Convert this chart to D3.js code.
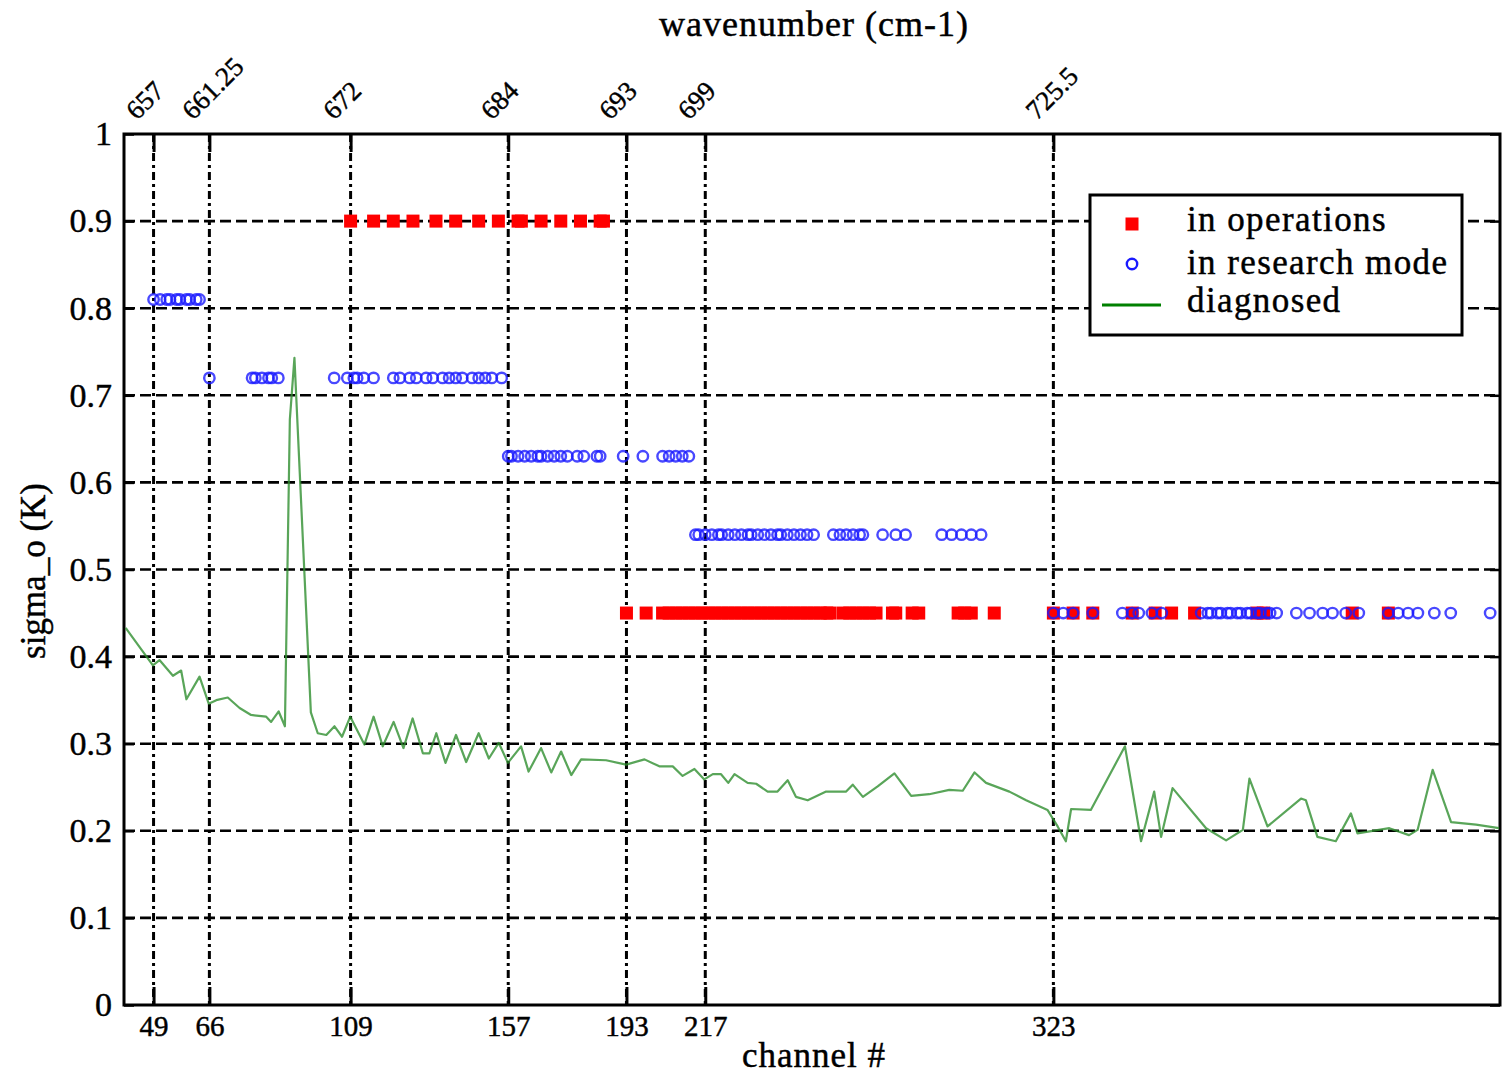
<!DOCTYPE html>
<html>
<head>
<meta charset="utf-8">
<script src="https://cdn.jsdelivr.net/npm/d3@7"></script>
<style>
  html, body { margin: 0; padding: 0; background: #fff; }
  svg { display: block; }
</style>
</head>
<body>
<svg id="chart" width="1503" height="1075"></svg>
<script>
// ---------------- data ----------------
const channelTicks = [49, 66, 109, 157, 193, 217, 323];
const wavenumberLabels = ["657", "661.25", "672", "684", "693", "699", "725.5"];
const yTicks = [0, 0.1, 0.2, 0.3, 0.4, 0.5, 0.6, 0.7, 0.8, 0.9, 1];
const yTickLabels = ["0", "0.1", "0.2", "0.3", "0.4", "0.5", "0.6", "0.7", "0.8", "0.9", "1"];

// in operations (red squares)
const opsValueHigh = 0.9;
const opsChannelsHigh = [109, 116, 122, 128, 135, 141, 148, 154, 160, 161, 167, 173, 179, 185, 186];
const opsValueLow = 0.45;
const opsChannelsLow = [193, 199, 204, 206, 208, 210, 212, 214, 216, 218, 220, 222, 224, 226, 228, 230,
  232, 234, 236, 238, 240, 242, 244, 246, 248, 250, 252, 254, 255,
  259, 261, 263, 265, 267, 269, 274, 275, 280, 282, 294, 296, 298, 305,
  323, 329, 335, 347, 354, 359, 366, 385, 387, 414, 425];

// in research mode (blue circles)
const resValues = [0.81, 0.72, 0.63, 0.54, 0.45];
const resChannels081 = [49, 51, 53, 54, 56, 57, 59, 60, 62, 63];
const resChannels072 = [66, 79, 80, 82, 84, 85, 87, 104, 108, 110, 111, 113, 116,
  122, 124, 127, 129, 132, 134, 137, 139, 141, 143, 146, 148, 150, 152, 155];
const resChannels063 = [157, 158, 160, 162, 164, 166, 167, 169, 171, 173, 175, 178, 180, 184, 185,
  192, 198, 204, 206, 208, 210, 212];
const resChannels054 = [214, 215, 217, 219, 221, 222, 224, 226, 228, 230, 231, 233, 235, 237, 239, 240,
  242, 244, 246, 248, 250, 256, 258, 260, 262, 264, 265, 271, 275, 278, 289, 292, 295, 298, 301];
const resChannels045 = [323, 326, 329, 335, 344, 347, 349, 353, 356, 368, 370, 371, 373, 374, 376, 377,
  379, 380, 382, 383, 385, 386, 388, 389, 391, 397, 401, 405, 408, 412, 416, 425, 428, 431, 434,
  439, 444, 456];

// diagnosed (green line)
const diagChannels = [40.5, 48.8, 50.8, 54.9, 57.4, 59.0, 63.0, 65.8, 68.1, 71.6, 75.2, 78.7, 83.3, 84.8,
  87.1, 89.0, 90.5, 91.9, 96.9, 99.0, 101.6, 104.1, 106.4, 108.9, 113.2, 116.0, 118.8, 122.1, 125.1,
  127.9, 131.0, 133.0, 135.1, 137.9, 141.1, 144.2, 148.0, 151.1, 154.1, 156.9, 160.9, 163.2, 167.0,
  170.1, 173.1, 176.2, 179.2, 186.8, 192.9, 198.5, 203.0, 207.1, 210.1, 213.7, 216.7, 219.3, 221.8,
  224.0, 225.9, 229.9, 232.5, 236.0, 239.0, 242.1, 244.6, 248.2, 253.8, 259.9, 261.9, 265.0, 269.5,
  274.6, 279.7, 285.2, 291.3, 295.4, 299.0, 302.5, 309.6, 314.7, 321.2, 324.3, 326.8, 328.4, 334.4,
  344.8, 349.7, 353.7, 355.8, 359.3, 369.5, 375.6, 380.7, 382.7, 388.2, 398.4, 399.9, 403.4, 409.0,
  413.6, 415.6, 425.3, 431.3, 433.9, 438.5, 444.1, 451.7, 458.7];
const diagValues = [0.433, 0.390, 0.396, 0.378, 0.384, 0.351, 0.377, 0.346, 0.350, 0.353, 0.341, 0.333, 0.331, 0.325,
  0.337, 0.320, 0.672, 0.743, 0.336, 0.312, 0.310, 0.320, 0.308, 0.331, 0.299, 0.331, 0.297, 0.325, 0.295,
  0.329, 0.289, 0.289, 0.312, 0.278, 0.310, 0.279, 0.312, 0.283, 0.301, 0.278, 0.297, 0.268, 0.295,
  0.267, 0.291, 0.264, 0.282, 0.281, 0.276, 0.282, 0.274, 0.274, 0.263, 0.271, 0.259, 0.265, 0.265,
  0.255, 0.265, 0.255, 0.254, 0.245, 0.245, 0.258, 0.239, 0.235, 0.245, 0.245, 0.253, 0.239, 0.251,
  0.266, 0.240, 0.242, 0.247, 0.246, 0.267, 0.255, 0.245, 0.235, 0.224, 0.205, 0.188, 0.225, 0.224,
  0.297, 0.188, 0.245, 0.193, 0.249, 0.203, 0.189, 0.201, 0.260, 0.205, 0.237, 0.235, 0.193, 0.188,
  0.220, 0.197, 0.203, 0.195, 0.201, 0.270, 0.210, 0.207, 0.203];

const legendLabels = ["in operations", "in research mode", "diagnosed"];

// ---------------- layout ----------------
const L = 124, R = 1500, T = 134, B = 1005;
const FONT = "'Liberation Serif', 'Times New Roman', serif";
const TXT_STROKE = 0.45;

const svg = d3.select("#chart");
svg.append("rect").attr("width", 1503).attr("height", 1075).attr("fill", "#fff");

const x = d3.scaleLinear().domain([40, 459]).range([L, R]);
const y = d3.scaleLinear().domain([0, 1]).range([B, T]);

function styleText(sel, size) {
  sel.attr("font-family", FONT).attr("font-size", size).attr("fill", "#000")
    .attr("stroke", "#000").attr("stroke-width", TXT_STROKE);
}

// horizontal dashed grid
svg.append("g").selectAll("line")
  .data(yTicks.filter(v => v > 0 && v < 1))
  .join("line")
  .attr("x1", L).attr("x2", R)
  .attr("y1", d => y(d)).attr("y2", d => y(d))
  .attr("stroke", "#000").attr("stroke-width", 2.6)
  .attr("stroke-dasharray", "11,5");

// vertical dash-dot grid
svg.append("g").selectAll("line")
  .data(channelTicks)
  .join("line")
  .attr("x1", d => x(d)).attr("x2", d => x(d))
  .attr("y1", T).attr("y2", B)
  .attr("stroke", "#000").attr("stroke-width", 3)
  .attr("stroke-dasharray", "8,4,3,4");

// axes
const gy = svg.append("g").attr("transform", `translate(${L},0)`)
  .call(d3.axisLeft(y).tickValues(yTicks).tickSize(-10).tickPadding(12)
    .tickFormat((d, i) => yTickLabels[i]));
gy.select(".domain").remove();
gy.selectAll("line").attr("stroke", "#000").attr("stroke-width", 2.5);
styleText(gy.selectAll("text"), 34);

const gyr = svg.append("g").attr("transform", `translate(${R},0)`)
  .call(d3.axisRight(y).tickValues(yTicks).tickSize(-10).tickFormat(""));
gyr.select(".domain").remove();
gyr.selectAll("line").attr("stroke", "#000").attr("stroke-width", 2.5);

const gx = svg.append("g").attr("transform", `translate(0,${B})`)
  .call(d3.axisBottom(x).tickValues(channelTicks).tickSize(-18).tickPadding(10)
    .tickFormat(d3.format("d")));
gx.select(".domain").remove();
gx.selectAll("line").attr("stroke", "#000").attr("stroke-width", 3);
styleText(gx.selectAll("text"), 29);

const gx2 = svg.append("g").attr("transform", `translate(0,${T})`)
  .call(d3.axisTop(x).tickValues(channelTicks).tickSize(-18)
    .tickFormat((d, i) => wavenumberLabels[i]));
gx2.select(".domain").remove();
gx2.selectAll("line").attr("stroke", "#000").attr("stroke-width", 3);
gx2.selectAll("text")
  .attr("x", 0).attr("y", 0).attr("dy", 0)
  .attr("text-anchor", "start")
  .attr("transform", "translate(-17,-13) rotate(-45)");
styleText(gx2.selectAll("text"), 27);

// frame
svg.append("rect").attr("x", L).attr("y", T).attr("width", R - L).attr("height", B - T)
  .attr("fill", "none").attr("stroke", "#000").attr("stroke-width", 3);

// axis titles
styleText(svg.append("text").attr("x", 814).attr("y", 36).attr("text-anchor", "middle")
  .attr("letter-spacing", 1).text("wavenumber (cm-1)"), 36);
styleText(svg.append("text").attr("x", 814).attr("y", 1067).attr("text-anchor", "middle")
  .attr("letter-spacing", 1).text("channel #"), 35);
styleText(svg.append("text").attr("transform", "translate(45,571) rotate(-90)").attr("text-anchor", "middle")
  .text("sigma_o (K)"), 35);

// operations: red squares
const SQ = 13;
const opsPoints = opsChannelsHigh.map(c => ({c, v: opsValueHigh}))
  .concat(opsChannelsLow.map(c => ({c, v: opsValueLow})));
svg.append("g").selectAll("rect")
  .data(opsPoints)
  .join("rect")
  .attr("x", d => x(d.c) - SQ / 2).attr("y", d => y(d.v) - SQ / 2)
  .attr("width", SQ).attr("height", SQ)
  .attr("fill", "#ff0000");

// research: blue circles
const resRows = [resChannels081, resChannels072, resChannels063, resChannels054, resChannels045];
const resPoints = [];
resRows.forEach((row, i) => row.forEach(c => resPoints.push({c, v: resValues[i]})));
svg.append("g").selectAll("circle")
  .data(resPoints)
  .join("circle")
  .attr("cx", d => x(d.c)).attr("cy", d => y(d.v)).attr("r", 5.2)
  .attr("fill", "none").attr("stroke", "#1a1aff").attr("stroke-width", 2.4)
  .attr("stroke-opacity", 0.8);

// diagnosed: green line
const diag = diagChannels.map((c, i) => ({c, v: diagValues[i]}));
svg.append("path")
  .datum(diag)
  .attr("d", d3.line().x(d => x(d.c)).y(d => y(d.v)))
  .attr("fill", "none").attr("stroke", "#2f8f2f").attr("stroke-width", 2.2)
  .attr("stroke-opacity", 0.8).attr("stroke-linejoin", "round");

// legend
const lg = svg.append("g");
lg.append("rect").attr("x", 1090).attr("y", 195).attr("width", 372).attr("height", 140)
  .attr("fill", "#fff").attr("stroke", "#000").attr("stroke-width", 3);
lg.append("rect").attr("x", 1132 - SQ / 2).attr("y", 224 - SQ / 2).attr("width", SQ).attr("height", SQ)
  .attr("fill", "#ff0000");
lg.append("circle").attr("cx", 1132).attr("cy", 264).attr("r", 5.2)
  .attr("fill", "none").attr("stroke", "#1a1aff").attr("stroke-width", 2.4);
lg.append("line").attr("x1", 1102).attr("x2", 1161).attr("y1", 305).attr("y2", 305)
  .attr("stroke", "#008000").attr("stroke-width", 3);
const legendBaselines = [231, 274, 312];
styleText(lg.selectAll("text.lbl").data(legendLabels).join("text")
  .attr("class", "lbl")
  .attr("x", 1187).attr("y", (d, i) => legendBaselines[i])
  .attr("letter-spacing", 1.4)
  .text(d => d), 35);
</script>
</body>
</html>
